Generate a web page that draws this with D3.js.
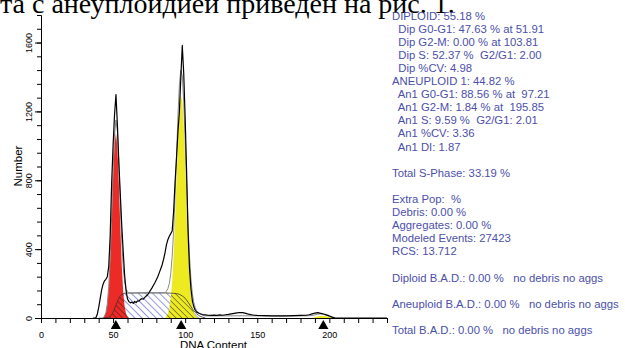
<!DOCTYPE html>
<html>
<head>
<meta charset="utf-8">
<script src="https://cdn.jsdelivr.net/npm/d3@7"></script>
<style>
html, body { margin: 0; padding: 0; background: #fff; }
svg { display: block; }
text { font-family: "Liberation Sans", Arial, sans-serif; }
</style>
</head>
<body>
<svg id="chart" width="625" height="348"></svg>
<script>
// line of body text above the figure (cut off at the top)
const headingText = 'та с анеуплоидией приведен на рис. 1.'

// raw histogram (black line): DNA channel -> count
const dataCh = [36, 38, 39, 40, 41, 42, 43, 44, 45, 46, 47, 48, 49, 50, 51, 52, 53, 54, 55, 56, 57, 58,
    59, 60, 61, 62, 63, 64, 65, 66, 67, 68, 69, 70, 71, 72, 73, 74, 75, 76, 77, 78, 79, 80, 81, 82, 83,
    84, 85, 86, 87, 88, 89, 90, 91, 92, 93, 94, 95, 96, 97, 98, 99, 100, 101, 102, 103, 104, 105, 106,
    107, 108, 110, 112, 114, 116, 118, 120, 122, 124, 126, 128, 130, 132, 134, 136, 138, 140, 142, 144,
    146, 148, 150, 155, 160, 165, 170, 175, 180, 184, 186, 188, 190, 192, 194, 196, 198, 200, 202, 204, 240]
const dataCounts = [0, 0, 20, 60, 110, 160, 195, 215, 225, 240, 300, 480, 780, 1000, 1180, 1298, 1120, 900,
    720, 540, 390, 250, 160, 110, 95, 88, 92, 85, 96, 90, 100, 98, 108, 112, 110, 120, 128, 135, 148, 162,
    175, 190, 205, 222, 240, 262, 285, 308, 340, 378, 425, 455, 475, 490, 505, 620, 790, 930, 1080, 1200,
    1400, 1583, 1420, 1160, 850, 500, 290, 170, 100, 65, 45, 34, 26, 20, 18, 16, 15, 17, 15, 18, 16, 19,
    21, 24, 27, 30, 32, 31, 27, 22, 19, 16, 15, 14, 12, 13, 12, 14, 15, 16, 19, 24, 28, 31, 27, 23, 18,
    12, 5, 0, 0]

// model sum (grey line)
const modelCh = [40, 43, 44, 45, 46, 47, 48, 49, 50, 51, 52, 53, 54, 55, 56, 57, 58, 59, 60, 61, 62, 70,
    80, 86, 87, 88, 89, 90, 91, 92, 93, 94, 95, 96, 97, 98, 99, 100, 101, 102, 103, 104, 105, 106, 107,
    108, 110, 112, 114, 120, 140, 160, 180, 186, 188, 190, 192, 194, 196, 198, 200, 202, 204]
const modelCounts = [0, 0, 11, 31, 82, 184, 349, 589, 853, 1063, 1150, 1086, 895, 658, 447, 296, 209, 170,
    153, 145, 145, 146, 146, 146, 156, 170, 200, 259, 359, 508, 708, 942, 1175, 1358, 1440, 1405, 1253,
    1031, 780, 549, 361, 228, 141, 89, 60, 42, 24, 17, 12, 12, 13, 12, 12, 13, 15, 18, 22, 24, 22, 15, 9,
    4, 0]

// diploid G0-G1 (red)
const dipG1Ch = [43, 44, 45, 46, 47, 48, 49, 50, 51, 52, 53, 54, 55, 56, 57, 58, 59, 60, 61]
const dipG1 = [0, 10, 30, 80, 180, 340, 570, 820, 1010, 1075, 990, 780, 530, 310, 155, 65, 25, 8, 0]

// diploid S-phase (hatched)
const dipSCh = [43, 44, 45, 46, 47, 48, 49, 50, 51, 52, 53, 54, 55, 56, 57, 58, 60, 70, 80, 86, 88, 90,
    92, 94, 96, 98, 100, 102, 104, 106, 108, 110, 112, 114]
const dipS = [0, 1, 1, 2, 4, 9, 19, 33, 53, 75, 96, 115, 128, 137, 141, 144, 145, 146, 146, 146, 145, 144,
    143, 142, 137, 128, 114, 92, 66, 42, 24, 12, 5, 0]

// aneuploid G0-G1 (yellow)
const an1G1Ch = [86, 87, 88, 89, 90, 91, 92, 93, 94, 95, 96, 97, 98, 99, 100, 101, 102, 103, 104, 105,
    106, 107, 108, 109]
const an1G1 = [0, 10, 25, 55, 115, 215, 365, 565, 800, 1035, 1215, 1295, 1265, 1120, 905, 665, 445, 270,
    150, 75, 35, 15, 6, 0]

// aneuploid G2-M (small yellow bump)
const an1G2Ch = [188, 190, 192, 194, 196, 198, 200, 202, 204]
const an1G2 = [0, 5, 9, 11, 11, 9, 6, 3, 0]

// peak markers under the axis
const peakMarkers = [51.91, 97.21, 195.85]

// axis ticks
const xTicks = d3.range(0, 241, 10)
const xTickLabels = [0, 50, 100, 150, 200]
const yTicks = d3.range(0, 1761, 80)
const yTickLabels = [0, 400, 800, 1200, 1600]

// statistics panel
const statsLines = [
    'DIPLOID: 55.18 %',
    '  Dip G0-G1: 47.63 % at 51.91',
    '  Dip G2-M: 0.00 % at 103.81',
    '  Dip S: 52.37 %  G2/G1: 2.00',
    '  Dip %CV: 4.98',
    'ANEUPLOID 1: 44.82 %',
    '  An1 G0-G1: 88.56 % at  97.21',
    '  An1 G2-M: 1.84 % at  195.85',
    '  An1 S: 9.59 %  G2/G1: 2.01',
    '  An1 %CV: 3.36',
    '  An1 DI: 1.87',
    '',
    'Total S-Phase: 33.19 %',
    '',
    'Extra Pop:  %',
    'Debris: 0.00 %',
    'Aggregates: 0.00 %',
    'Modeled Events: 27423',
    'RCS: 13.712',
    '',
    'Diploid B.A.D.: 0.00 %   no debris no aggs',
    '',
    'Aneuploid B.A.D.: 0.00 %   no debris no aggs',
    '',
    'Total B.A.D.: 0.00 %   no debris no aggs'
]

const svg = d3.select('#chart')
const x = d3.scaleLinear().domain([0, 240]).range([41, 387])
const y = d3.scaleLinear().domain([0, 1760]).range([318, 15])

const pts = (ch, v) => ch.map((c, i) => [c, v[i]])
const area = d3.area().x(d => x(d[0])).y0(y(0)).y1(d => y(d[1]))
const smoothArea = d3.area().x(d => x(d[0])).y0(y(0)).y1(d => y(d[1])).curve(d3.curveMonotoneX)
const smoothLine = d3.line().x(d => x(d[0])).y(d => y(d[1])).curve(d3.curveMonotoneX)
const line = d3.line().x(d => x(d[0])).y(d => y(d[1]))

// heading text, mostly outside the picture
svg.append('text')
    .attr('x', 0).attr('y', 12.5)
    .style('font-family', '"Liberation Serif", "Times New Roman", serif')
    .attr('font-size', 28)
    .attr('fill', '#000')
    .text(headingText)

const defs = svg.append('defs')
const hatch = (id, color, gap, w) => {
    const p = defs.append('pattern').attr('id', id)
        .attr('patternUnits', 'userSpaceOnUse')
        .attr('width', gap).attr('height', gap)
        .attr('patternTransform', 'rotate(-45)')
    p.append('line').attr('x1', 0).attr('y1', 0).attr('x2', 0).attr('y2', gap)
        .attr('stroke', color).attr('stroke-width', w)
}
hatch('hatchBlue', '#4a5ac8', 5, 1.2)
hatch('hatchBlack', '#1a1a1a', 4.2, 0.9)

const clip = defs.append('clipPath').attr('id', 'peakClip')
clip.append('path').attr('d', area(pts(dipG1Ch, dipG1)))
clip.append('path').attr('d', area(pts(an1G1Ch, an1G1)))

const plot = svg.append('g')

plot.append('path')
    .attr('d', smoothArea(pts(dipSCh, dipS)))
    .attr('fill', 'url(#hatchBlue)')

plot.append('path')
    .attr('d', area(pts(dipG1Ch, dipG1)))
    .attr('fill', '#ec2a26')

plot.append('path')
    .attr('d', area(pts(an1G1Ch, an1G1)))
    .attr('fill', '#eeea22')

plot.append('path')
    .attr('d', smoothArea(pts(an1G2Ch, an1G2)))
    .attr('fill', '#eeea22')

plot.append('path')
    .attr('d', smoothArea(pts(dipSCh, dipS)))
    .attr('fill', 'url(#hatchBlack)')
    .attr('clip-path', 'url(#peakClip)')

plot.append('path')
    .attr('d', smoothLine(pts(dipSCh, dipS)))
    .attr('fill', 'none')
    .attr('stroke', '#333')
    .attr('stroke-width', 0.8)

plot.append('path')
    .attr('d', line(pts(modelCh, modelCounts)))
    .attr('fill', 'none')
    .attr('stroke', '#8a8a8a')
    .attr('stroke-width', 1)

plot.append('path')
    .attr('d', line(pts(dataCh, dataCounts)))
    .attr('fill', 'none')
    .attr('stroke', '#000')
    .attr('stroke-width', 1.2)
    .attr('stroke-linejoin', 'round')

// axes
const styleAxis = g => {
    g.attr('color', '#000')
    g.selectAll('text').attr('font-size', 9).attr('fill', '#000')
}

svg.append('g')
    .attr('transform', 'translate(41,0)')
    .call(d3.axisLeft(y).tickValues(yTicks).tickSize(4).tickSizeOuter(0).tickFormat(''))
    .call(styleAxis)

svg.append('g')
    .attr('transform', 'translate(41,0)')
    .call(d3.axisLeft(y).tickValues(yTickLabels).tickSize(6).tickSizeOuter(0).tickFormat(d3.format('d')))
    .call(styleAxis)
    .call(g => g.selectAll('text')
        .attr('transform', 'rotate(-90)')
        .attr('x', 0).attr('y', -9).attr('dy', 0)
        .attr('text-anchor', 'middle'))

svg.append('g')
    .attr('transform', `translate(0,${ y(0) })`)
    .call(d3.axisBottom(x).tickValues(xTicks).tickSize(5).tickSizeOuter(0)
        .tickFormat(d => xTickLabels.includes(d) ? d : ''))
    .call(styleAxis)
    .call(g => g.selectAll('text').attr('y', 19.5).attr('dy', 0))

svg.append('text')
    .attr('transform', 'translate(21.5,166) rotate(-90)')
    .attr('text-anchor', 'middle')
    .attr('font-size', 11.5)
    .attr('fill', '#000')
    .text('Number')

svg.append('text')
    .attr('x', 213.5).attr('y', 349)
    .attr('text-anchor', 'middle')
    .attr('font-size', 11.5)
    .attr('fill', '#000')
    .text('DNA Content')

// peak markers
svg.selectAll('path.marker')
    .data(peakMarkers)
    .join('path')
    .attr('class', 'marker')
    .attr('transform', d => `translate(${ x(d) },326)`)
    .attr('d', d3.symbol(d3.symbolTriangle, 45))
    .attr('fill', '#000')

// statistics
svg.append('g')
    .selectAll('text')
    .data(statsLines)
    .join('text')
    .attr('x', 392)
    .attr('y', (d, i) => 19.5 + i * 13.1)
    .attr('font-size', 11.3)
    .attr('fill', '#4b50aa')
    .attr('xml:space', 'preserve')
    .style('white-space', 'pre')
    .text(d => d)
</script>
</body>
</html>
